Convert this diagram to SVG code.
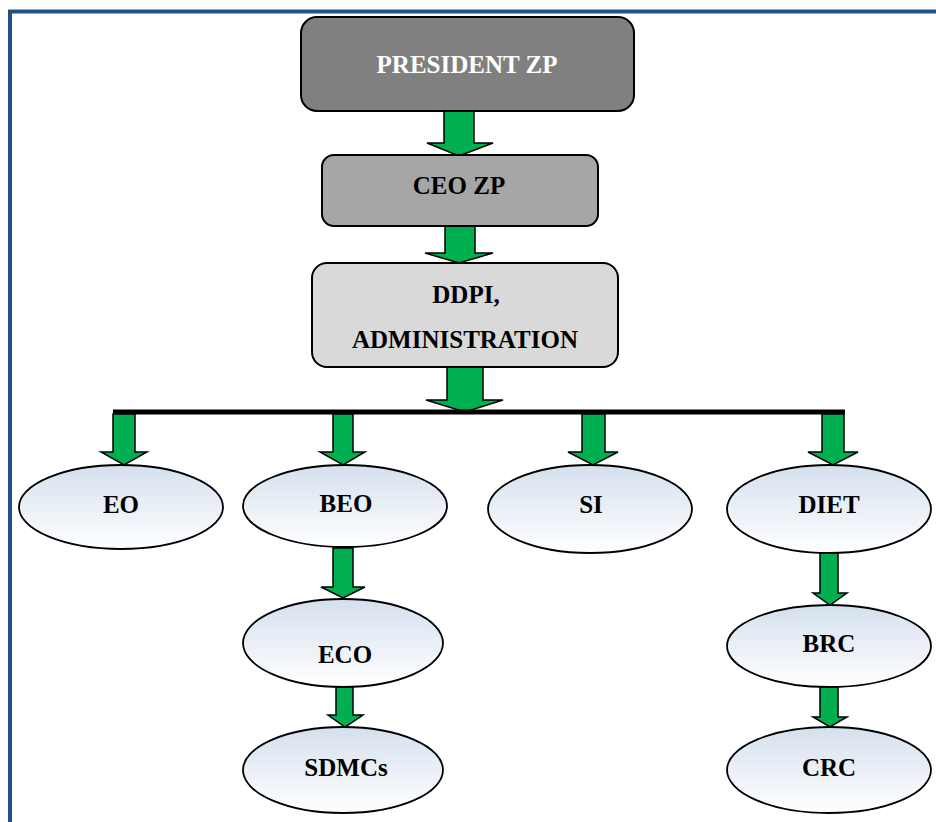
<svg xmlns="http://www.w3.org/2000/svg" width="936" height="822" viewBox="0 0 936 822">
<defs>
<linearGradient id="eg" x1="0" y1="0" x2="0" y2="1">
<stop offset="0" stop-color="#d5e0ee"/>
<stop offset="1" stop-color="#ffffff"/>
</linearGradient>
</defs>
<style>
.t{font-family:"Liberation Serif","Times New Roman",serif;font-weight:bold;font-size:25px;text-anchor:middle;fill:#000}
.w{fill:#fff}
.box{stroke:#000;stroke-width:2}
.ell{fill:url(#eg);stroke:#000;stroke-width:1.8}
.arr{fill:#00b050;stroke:#000;stroke-width:1.5;stroke-linejoin:miter}
</style>
<rect width="936" height="822" fill="#fff"/>
<path d="M10,822 V11.5 H936" fill="none" stroke="#1f5086" stroke-width="4"/>

<g id="connectors">
<polygon class="arr" points="444,111 474,111 474,143 493,143 459,156 427,143 444,143"/>
<polygon class="arr" points="445,226 475,226 475,253 493,253 459,263 425,253 445,253"/>
<polygon class="arr" points="447,367 483,367 483,400 503,400 465,412 426,400 447,400"/>
<line x1="113" y1="412" x2="845" y2="412" stroke="#000" stroke-width="5"/>
<polygon class="arr" points="113,414 135,414 135,452 147,452 124,465 101,452 113,452"/>
<polygon class="arr" points="333,414 353,414 353,452 365,452 343,465 320,452 333,452"/>
<polygon class="arr" points="582,414 605,414 605,452 618,452 593,465 568,452 582,452"/>
<polygon class="arr" points="822,414 844,414 844,452 858,452 833,465 808,452 822,452"/>
<polygon class="arr" points="333,548 353,548 353,587 365,587 343,598 321,587 333,587"/>
<polygon class="arr" points="336,687 353,687 353,715 363,715 345,727 328,715 336,715"/>
<polygon class="arr" points="820,553 838,553 838,593 847,593 830,605 813,593 820,593"/>
<polygon class="arr" points="820,687 838,687 838,717 847,717 830,727 813,717 820,717"/>
</g>

<g id="president">
<rect class="box" x="301" y="17" width="333" height="94" rx="16" fill="#808080"/>
<text class="t w" x="467" y="73">PRESIDENT ZP</text>
</g>
<g id="ceo">
<rect class="box" x="322" y="155" width="276" height="71" rx="12" fill="#a6a6a6"/>
<text class="t" x="459" y="194">CEO ZP</text>
</g>
<g id="ddpi">
<rect class="box" x="312" y="263" width="306" height="104" rx="15" fill="#d9d9d9"/>
<text class="t" x="466" y="303">DDPI,</text>
<text class="t" x="465" y="348">ADMINISTRATION</text>
</g>
<g id="eo">
<ellipse class="ell" cx="121" cy="507" rx="102" ry="42"/>
<text class="t" x="121" y="513">EO</text>
</g>
<g id="beo">
<ellipse class="ell" cx="345" cy="506" rx="102" ry="41"/>
<text class="t" x="346" y="512">BEO</text>
</g>
<g id="si">
<ellipse class="ell" cx="590" cy="509" rx="102" ry="44"/>
<text class="t" x="591" y="513">SI</text>
</g>
<g id="diet">
<ellipse class="ell" cx="829" cy="509" rx="102" ry="44"/>
<text class="t" x="829" y="513">DIET</text>
</g>
<g id="eco">
<ellipse class="ell" cx="343" cy="643" rx="100" ry="44"/>
<text class="t" x="345" y="663">ECO</text>
</g>
<g id="sdmcs">
<ellipse class="ell" cx="343" cy="770" rx="100" ry="43"/>
<text class="t" x="346" y="776">SDMCs</text>
</g>
<g id="brc">
<ellipse class="ell" cx="829" cy="646" rx="102" ry="41"/>
<text class="t" x="829" y="652">BRC</text>
</g>
<g id="crc">
<ellipse class="ell" cx="829" cy="770" rx="102" ry="43"/>
<text class="t" x="829" y="776">CRC</text>
</g>
</svg>
